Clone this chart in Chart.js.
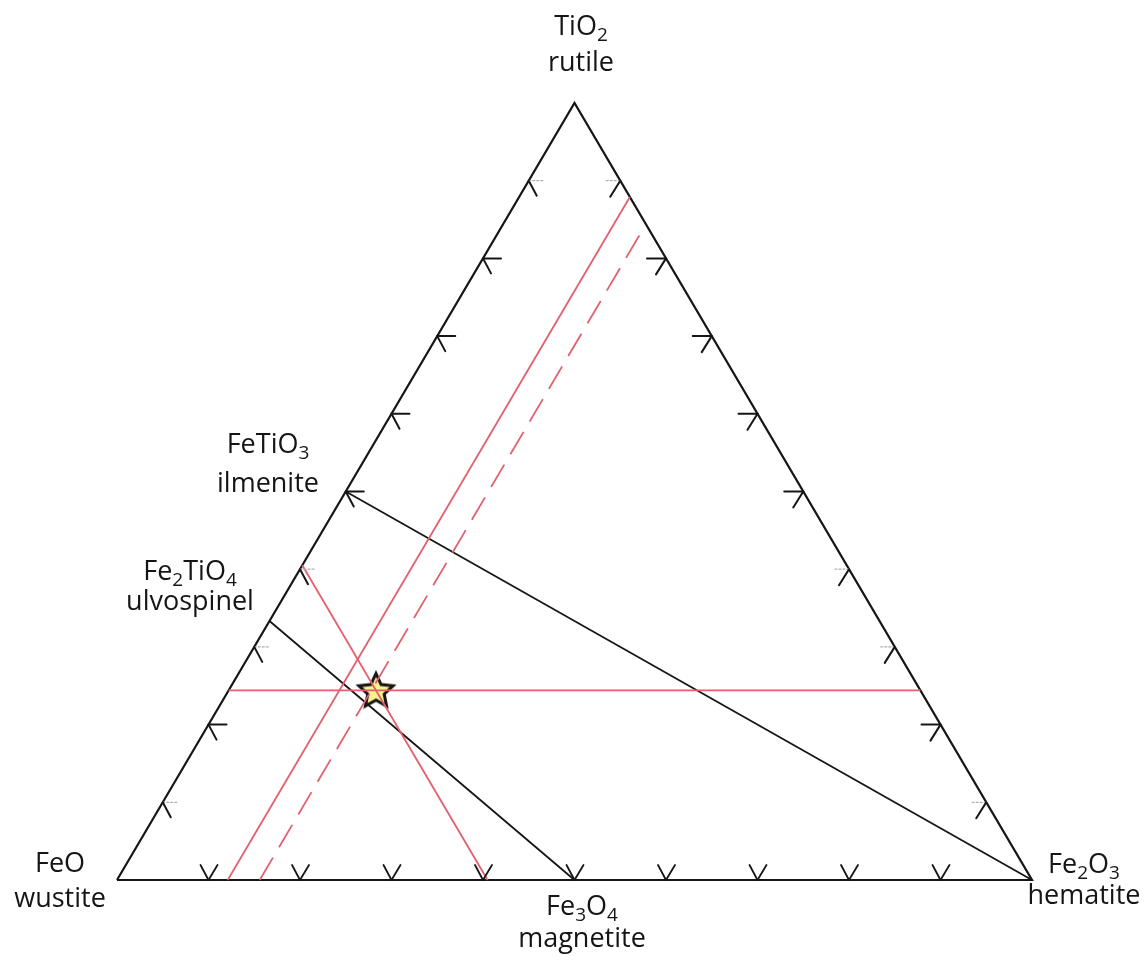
<!DOCTYPE html>
<html>
<head>
<meta charset="utf-8">
<title>FeO - Fe2O3 - TiO2</title>
<script src="https://cdn.jsdelivr.net/npm/chart.js@4.4.1/dist/chart.umd.min.js"></script>
<style>
  body { margin: 0; background: #fff; }
  #ternary { display: block; }
</style>
</head>
<body>
<canvas id="ternary" width="1146" height="960"></canvas>
<script>
// 조성 = [TiO2, Fe2O3] 몰분율 (나머지는 FeO)
const corners = [[0, 0], [0, 1], [1, 0], [0, 0]]; // FeO -> Fe2O3 -> TiO2 -> FeO
const ilmeniteLine = [[0.5, 0], [0, 1]]; // FeTiO3 - Fe2O3
const ulvospinelLine = [[1 / 3, 0], [0, 0.5]]; // Fe2TiO4 - Fe3O4
const tio2Line = [[0.244, 0], [0.244, 0.756]]; // TiO2 일정
const feoLine = [[0.405, 0], [0, 0.405]]; // FeO 일정
const fe2o3Line = [[0, 0.121], [0.879, 0.121]]; // Fe2O3 일정 (실선)
const fe2o3Dashed = [[0, 0.156], [0.83, 0.156]]; // Fe2O3 일정 (점선)
const starPoint = [[0.244, 0.161]];

// 눈금
const tickValues = [0.1, 0.2, 0.3, 0.4, 0.5, 0.6, 0.7, 0.8, 0.9];
const leftFaint = [0.1, 0.3, 0.4, 0.9];
const rightFaint = [0.1, 0.3, 0.4, 0.9];

// 라벨 텍스트 (_숫자 = 아래첨자)
const labelTexts = [
  ["TiO_2", "rutile"],
  ["FeTiO_3", "ilmenite"],
  ["Fe_2TiO_4", "ulvospinel"],
  ["FeO", "wustite"],
  ["Fe_3O_4", "magnetite"],
  ["Fe_2O_3", "hematite"],
];

// 라벨 위치 (픽셀, 중앙 x / 두 줄의 기준선 y)
const labelLayout = [
  { x: 581, y: [35, 71] },
  { x: 268, y: [453, 492] },
  { x: 190, y: [580, 610] },
  { x: 60, y: [872, 907] },
  { x: 582, y: [915, 947] },
  { x: 1084, y: [873, 904] },
];

const black = "#161616";
const red = "rgb(226, 96, 112)";

// 삼원 조성 -> 직교 좌표
function toXY(c) {
  return { x: c[1] + c[0] / 2, y: c[0] };
}

// 별 모양 점
function makeStar() {
  const cv = document.createElement("canvas");
  cv.width = 46;
  cv.height = 46;
  const c = cv.getContext("2d");
  c.beginPath();
  for (let i = 0; i < 10; i++) {
    const r = i % 2 === 0 ? 18 : 8.6;
    const a = -Math.PI / 2 + (i * Math.PI) / 5;
    const px = 23 + r * Math.cos(a);
    const py = 24 + r * Math.sin(a);
    if (i === 0) c.moveTo(px, py);
    else c.lineTo(px, py);
  }
  c.closePath();
  c.fillStyle = "#f6f28c";
  c.fill();
  c.lineWidth = 3;
  c.strokeStyle = black;
  c.lineJoin = "miter";
  c.stroke();
  return cv;
}

function lineSet(points, color, width, dash) {
  return {
    data: points.map(toXY),
    showLine: true,
    borderColor: color,
    borderWidth: width,
    borderDash: dash || [],
    pointRadius: 0,
    fill: false,
    clip: false,
  };
}

// 눈금 그리기
const tickPlugin = {
  id: "ternaryTicks",
  afterDatasetsDraw(chart) {
    const ctx = chart.ctx;
    const xs = chart.scales.x;
    const ys = chart.scales.y;
    const px = (c) => {
      const p = toXY(c);
      return [xs.getPixelForValue(p.x), ys.getPixelForValue(p.y)];
    };
    const seg = (x1, y1, x2, y2, color, w, dash) => {
      ctx.beginPath();
      ctx.strokeStyle = color;
      ctx.lineWidth = w;
      ctx.setLineDash(dash || []);
      ctx.moveTo(x1, y1);
      ctx.lineTo(x2, y2);
      ctx.stroke();
    };
    ctx.save();
    ctx.lineCap = "round";
    tickValues.forEach((v) => {
      // 왼쪽 변
      let [x, y] = px([v, 0]);
      if (leftFaint.includes(v)) seg(x, y, x + 14, y, "#b0b0b0", 1.2, [2, 2]);
      else seg(x, y, x + 18, y, black, 2);
      seg(x, y, x + 8, y + 15, black, 2);
      // 오른쪽 변
      [x, y] = px([v, 1 - v]);
      if (rightFaint.includes(v)) seg(x, y, x - 14, y, "#b0b0b0", 1.2, [2, 2]);
      else seg(x, y, x - 19, y, black, 2);
      seg(x, y, x - 10, y + 16, black, 2);
      // 아래 변
      [x, y] = px([0, v]);
      seg(x, y, x - 8, y - 15, black, 1.8);
      seg(x, y, x + 9, y - 15, black, 1.8);
    });
    ctx.restore();
  },
};

// 아래첨자 텍스트
function drawRich(ctx, str, cx, y) {
  const parts = str.split(/(_\d)/).filter((s) => s.length);
  const big = '27px "Open Sans"';
  const small = '19px "Open Sans"';
  let w = 0;
  parts.forEach((p) => {
    ctx.font = p[0] === "_" ? small : big;
    w += ctx.measureText(p.replace("_", "")).width;
  });
  let x = cx - w / 2;
  parts.forEach((p) => {
    const sub = p[0] === "_";
    const t = p.replace("_", "");
    ctx.font = sub ? small : big;
    ctx.fillText(t, x, sub ? y + 6 : y);
    x += ctx.measureText(t).width;
  });
}

const labelPlugin = {
  id: "cornerLabels",
  afterDraw(chart) {
    const ctx = chart.ctx;
    ctx.save();
    ctx.fillStyle = "#151515";
    ctx.textAlign = "left";
    ctx.textBaseline = "alphabetic";
    labelTexts.forEach((lines, i) => {
      const lay = labelLayout[i];
      lines.forEach((s, j) => drawRich(ctx, s, lay.x, lay.y[j]));
    });
    ctx.restore();
  },
};

const config = {
  type: "scatter",
  data: {
    datasets: [
      lineSet(fe2o3Line, red, 1.8),
      lineSet(fe2o3Dashed, red, 1.8, [26, 12]),
      lineSet(tio2Line, red, 1.8),
      lineSet(feoLine, red, 1.8),
      lineSet(ilmeniteLine, black, 1.8),
      lineSet(ulvospinelLine, black, 1.8),
      lineSet(corners, black, 2.2),
      {
        data: starPoint.map(toXY),
        pointStyle: makeStar(),
        pointRadius: 18,
        clip: false,
      },
    ],
  },
  options: {
    responsive: false,
    animation: false,
    layout: { padding: { left: 117, right: 114, top: 103, bottom: 80 } },
    scales: {
      x: { type: "linear", min: 0, max: 1, display: false },
      y: { type: "linear", min: 0, max: 1, display: false },
    },
    plugins: {
      legend: { display: false },
      tooltip: { enabled: false },
    },
  },
  plugins: [tickPlugin, labelPlugin],
};

const ctx = document.getElementById("ternary").getContext("2d");
const ternaryChart = new Chart(ctx, config);
</script>
</body>
</html>
